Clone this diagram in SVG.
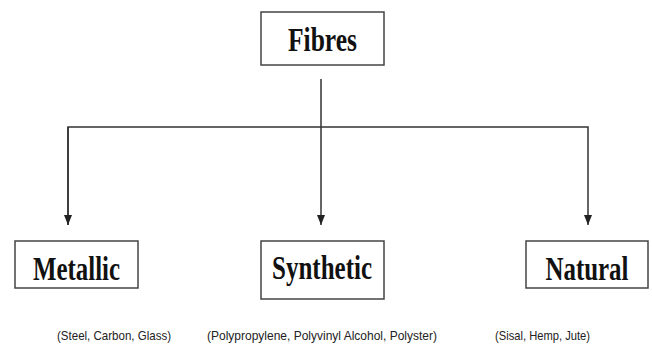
<svg xmlns="http://www.w3.org/2000/svg" width="652" height="347" viewBox="0 0 652 347">
<style>
.box{fill:#fff;stroke:#444;stroke-width:1.5}
.title{font-family:"Liberation Serif","Times New Roman",serif;font-weight:bold;font-size:33px;fill:#111;text-anchor:middle}
.sub{font-family:"Liberation Sans",Arial,sans-serif;font-size:13px;fill:#222}
.conn{fill:none;stroke:#333;stroke-width:1.5}
</style>
<defs>
<marker id="ah" viewBox="0 0 10 8" refX="10" refY="4" markerWidth="10" markerHeight="8" markerUnits="userSpaceOnUse" orient="auto">
<path d="M0,0 L10,4 L0,8 Z" fill="#222"/>
</marker>
</defs>
<rect width="652" height="347" fill="#fff"/>
<g id="connectors">
<path class="conn" d="M321,79 V225" marker-end="url(#ah)"/>
<path class="conn" d="M68,225 V127 H588 V225" marker-end="url(#ah)"/>
<path class="conn" d="M68,127 V225" marker-end="url(#ah)"/>
</g>
<g id="fibres">
<rect class="box" x="261" y="12" width="123" height="53"/>
<text class="title" x="322.5" y="51" textLength="69" lengthAdjust="spacingAndGlyphs">Fibres</text>
</g>
<g id="metallic">
<rect class="box" x="15" y="241" width="123" height="47"/>
<text class="title" x="76.5" y="280" textLength="87" lengthAdjust="spacingAndGlyphs">Metallic</text>
<text class="sub" x="57" y="340" textLength="114" lengthAdjust="spacingAndGlyphs">(Steel, Carbon, Glass)</text>
</g>
<g id="synthetic">
<rect class="box" x="261" y="241" width="123" height="58"/>
<text class="title" x="322" y="279" textLength="100" lengthAdjust="spacingAndGlyphs">Synthetic</text>
<text class="sub" x="207" y="340" textLength="230" lengthAdjust="spacingAndGlyphs">(Polypropylene, Polyvinyl Alcohol, Polyster)</text>
</g>
<g id="natural">
<rect class="box" x="526" y="241" width="122" height="47"/>
<text class="title" x="587" y="280" textLength="83" lengthAdjust="spacingAndGlyphs">Natural</text>
<text class="sub" x="495" y="340" textLength="95" lengthAdjust="spacingAndGlyphs">(Sisal, Hemp, Jute)</text>
</g>
</svg>
